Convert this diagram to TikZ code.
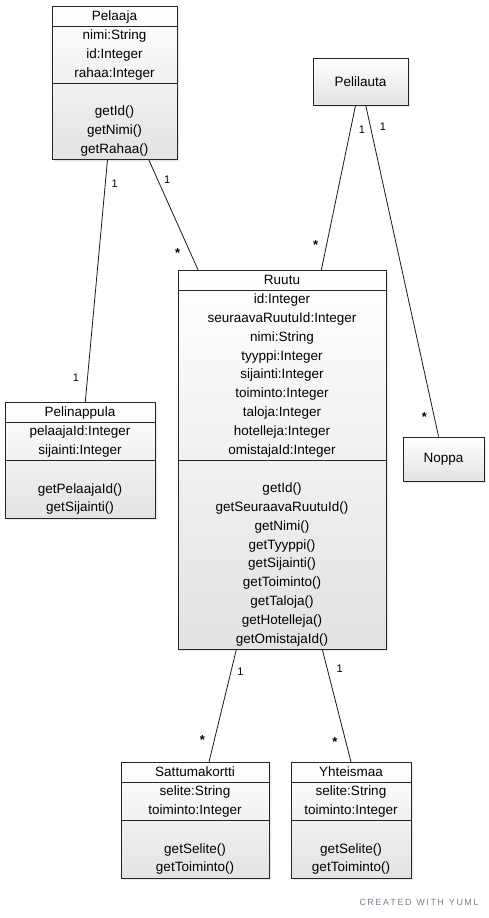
\documentclass[tikz,border=0pt]{standalone}
\usepackage{fontspec}
\setmainfont{Liberation Sans}
\usetikzlibrary{shapes.multipart,shadows}

\definecolor{yumlgrey}{HTML}{7A8290}

\begin{document}
\begin{tikzpicture}[x=1pt, y=-1pt,
  umlclass/.style={draw=black!85, line width=0.9pt, rectangle split, rectangle split parts=3,
    align=center, anchor=north, inner xsep=3pt, inner ysep=0pt,
    top color=white, bottom color=black!11,
    drop shadow={opacity=0.18, shadow xshift=2pt, shadow yshift=-2pt},
    font=\fontsize{13.5}{18.8}\selectfont},
  umlplain/.style={draw=black!85, line width=0.9pt, top color=white, bottom color=black!11,
    drop shadow={opacity=0.18, shadow xshift=2pt, shadow yshift=-2pt},
    font=\fontsize{13.5}{18.8}\selectfont},
  assoc/.style={draw=black!90, line width=0.8pt},
  mult/.style={font=\fontsize{11}{12}\selectfont, inner sep=1pt},
  many/.style={mult, font=\fontsize{13}{13}\bfseries}]
\fill[white] (0,0) rectangle (489,918);
\useasboundingbox (0,0) rectangle (489,918);

\node[umlclass, minimum width=125pt] (pelaaja) at (114.5,6)
  {\strut Pelaaja\strut
   \nodepart{two}\strut nimi:String\\id:Integer\\rahaa:Integer\strut
   \nodepart{three}\strut\\getId()\\getNimi()\\getRahaa()\strut};
\node[umlplain, minimum width=95pt, minimum height=47pt] (pelilauta) at (360.5,81.5) {Pelilauta};
\node[umlclass, minimum width=208pt] (ruutu) at (282,270)
  {\strut Ruutu\strut
   \nodepart{two}\strut id:Integer\\seuraavaRuutuId:Integer\\nimi:String\\tyyppi:Integer\\sijainti:Integer\\toiminto:Integer\\taloja:Integer\\hotelleja:Integer\\omistajaId:Integer\strut
   \nodepart{three}\strut\\getId()\\getSeuraavaRuutuId()\\getNimi()\\getTyyppi()\\getSijainti()\\getToiminto()\\getTaloja()\\getHotelleja()\\getOmistajaId()\strut};
\node[umlclass, minimum width=150pt] (pelinappula) at (80,402)
  {\strut Pelinappula\strut
   \nodepart{two}\strut pelaajaId:Integer\\sijainti:Integer\strut
   \nodepart{three}\strut\\getPelaajaId()\\getSijainti()\strut};
\node[umlplain, minimum width=81pt, minimum height=44pt] (noppa) at (443.5,459) {Noppa};
\node[umlclass, minimum width=148pt] (sattumakortti) at (195,762)
  {\strut Sattumakortti\strut
   \nodepart{two}\strut selite:String\\toiminto:Integer\strut
   \nodepart{three}\strut\\getSelite()\\getToiminto()\strut};
\node[umlclass, minimum width=120pt] (yhteismaa) at (351,762)
  {\strut Yhteismaa\strut
   \nodepart{two}\strut selite:String\\toiminto:Integer\strut
   \nodepart{three}\strut\\getSelite()\\getToiminto()\strut};

\draw[assoc] (pelaaja) -- node[mult, pos=0.1, right=5pt] (m1) {1}
  node[mult, pos=0.9, left=7pt] (m2) {1} (pelinappula);
\draw[assoc] (pelaaja) -- node[mult, pos=0.18, right=5pt] (m3) {1}
  node[many, pos=0.85, left=9pt] (m4) {*} (ruutu);
\draw[assoc] (pelilauta) -- node[mult, pos=0.15, right=7pt] (m5) {1}
  node[many, pos=0.85, left=7pt] (m6) {*} (ruutu);
\draw[assoc] (pelilauta) -- node[mult, pos=0.065, right=8pt] (m7) {1}
  node[many, pos=0.94, left=6pt] (m8) {*} (noppa);
\draw[assoc] (ruutu) -- node[mult, pos=0.2, right=5pt] (m9) {1}
  node[many, pos=0.8, left=8pt] (m10) {*} (sattumakortti);
\draw[assoc] (ruutu.-78) -- node[mult, pos=0.17, right=8pt] (m11) {1}
  node[many, pos=0.82, left=7pt] (m12) {*} (yhteismaa.north);

\node[text=yumlgrey, font=\fontsize{9}{10}\selectfont] (credit) at (419,902) {C\,R\,E\,A\,T\,E\,D \ W\,I\,T\,H \ Y\,U\,M\,L};
\end{tikzpicture}
\end{document}
